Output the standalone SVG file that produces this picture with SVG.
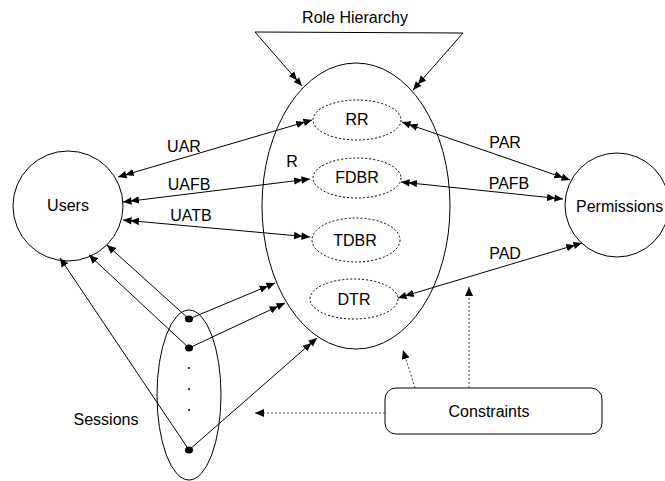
<svg xmlns="http://www.w3.org/2000/svg" width="665" height="481" viewBox="0 0 665 481">
<defs>
<style>
text{font-family:"Liberation Sans",Arial,sans-serif;font-size:16px;fill:#000;text-anchor:middle}
.n{fill:#fff;stroke:#000;stroke-width:1}
.d{fill:none;stroke:#000;stroke-width:1;stroke-dasharray:2,2}
.c{fill:none;stroke:#000;stroke-width:1}
.dot{fill:none;stroke:#444;stroke-width:1;stroke-dasharray:2,2}
</style>
<marker id="dbl" markerUnits="userSpaceOnUse" markerWidth="17" markerHeight="10" viewBox="0 0 17 10" refX="16" refY="5" orient="auto-start-reverse">
<path d="M0,1.3 L8.5,5 L0,8.7 Z M7.5,1.3 L16,5 L7.5,8.7 Z" fill="#000"/>
</marker>
<marker id="sgl" markerUnits="userSpaceOnUse" markerWidth="10" markerHeight="10" viewBox="0 0 10 10" refX="9" refY="5" orient="auto">
<path d="M0,1 L9,5 L0,9 Z" fill="#000"/>
</marker>
</defs>

<g id="title"><text x="355" y="23">Role Hierarchy</text></g>

<g id="roles">
<ellipse class="n" cx="356" cy="206" rx="94" ry="143"/>
</g>
<g id="RR"><ellipse class="d" cx="357" cy="120" rx="44" ry="20"/><text x="357" y="125">RR</text></g>
<g id="FDBR"><ellipse class="d" cx="357" cy="178" rx="44" ry="20"/><text x="357" y="183">FDBR</text></g>
<g id="TDBR"><ellipse class="d" cx="356" cy="240" rx="44" ry="22"/><text x="355" y="246">TDBR</text></g>
<g id="DTR"><ellipse class="d" cx="354" cy="299" rx="44" ry="20"/><text x="354" y="305">DTR</text></g>

<g id="users"><circle class="n" cx="68" cy="206" r="55"/><text x="68" y="211">Users</text></g>
<g id="permissions"><circle class="n" cx="617" cy="205" r="52"/><text x="576" y="212" style="text-anchor:start">Permissions</text></g>

<g id="sessions">
<ellipse class="n" cx="189" cy="395" rx="32" ry="85"/>
<ellipse cx="189" cy="319" rx="4" ry="3.5" fill="#000"/>
<ellipse cx="189" cy="348" rx="4" ry="3.5" fill="#000"/>
<circle cx="189" cy="368" r="1" fill="#000"/>
<circle cx="189" cy="389" r="1" fill="#000"/>
<circle cx="189" cy="410" r="1" fill="#000"/>
<ellipse cx="189" cy="450" rx="4" ry="3.5" fill="#000"/>
<text x="106" y="425">Sessions</text>
</g>

<g id="constraints"><rect class="n" x="385" y="388" width="217" height="46" rx="11"/><text x="489" y="417">Constraints</text></g>

<g id="connectors">
<path class="c" d="M302,86 L255,32 L463,33 L413,90" marker-start="url(#dbl)" marker-end="url(#dbl)"/>
<line class="c" x1="118" y1="177" x2="312" y2="120" marker-start="url(#dbl)" marker-end="url(#dbl)"/>
<line class="c" x1="123" y1="202" x2="310" y2="179" marker-start="url(#dbl)" marker-end="url(#dbl)"/>
<line class="c" x1="123" y1="220" x2="310" y2="237" marker-start="url(#dbl)" marker-end="url(#dbl)"/>
<line class="c" x1="402" y1="122" x2="570" y2="180" marker-start="url(#dbl)" marker-end="url(#dbl)"/>
<line class="c" x1="401" y1="182" x2="563" y2="199" marker-start="url(#dbl)" marker-end="url(#dbl)"/>
<line class="c" x1="398" y1="298" x2="582" y2="243" marker-start="url(#dbl)" marker-end="url(#dbl)"/>
<line class="c" x1="189" y1="319" x2="107" y2="245" marker-end="url(#sgl)"/>
<line class="c" x1="189" y1="348" x2="89" y2="255" marker-end="url(#sgl)"/>
<line class="c" x1="189" y1="450" x2="60" y2="258" marker-end="url(#sgl)"/>
<line class="c" x1="189" y1="319" x2="275" y2="283" marker-end="url(#dbl)"/>
<line class="c" x1="189" y1="348" x2="285" y2="303" marker-end="url(#dbl)"/>
<line class="c" x1="189" y1="450" x2="317" y2="338" marker-end="url(#dbl)"/>
<line class="dot" x1="385" y1="413" x2="255" y2="413" marker-end="url(#sgl)"/>
<line class="dot" x1="415" y1="388" x2="403" y2="350" marker-end="url(#sgl)"/>
<line class="dot" x1="469" y1="388" x2="469" y2="287" marker-end="url(#sgl)"/>
<text x="184" y="152">UAR</text>
<text x="292" y="167">R</text>
<text x="189" y="190">UAFB</text>
<text x="191" y="221">UATB</text>
<text x="505" y="148">PAR</text>
<text x="509" y="189">PAFB</text>
<text x="505" y="259">PAD</text>
</g>
</svg>
